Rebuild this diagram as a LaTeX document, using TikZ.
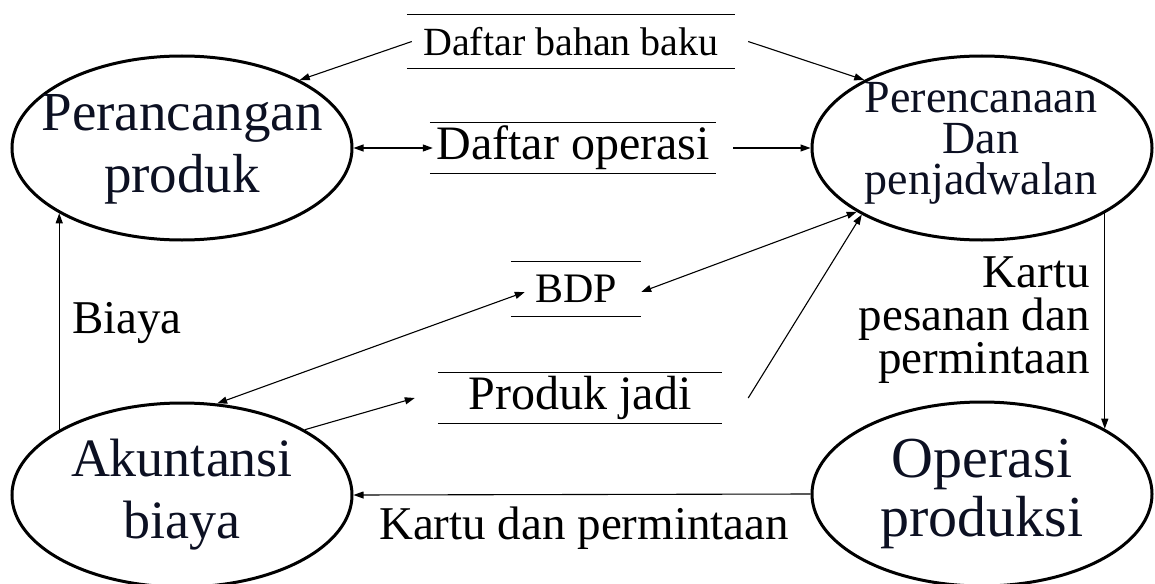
\documentclass[tikz,border=0pt]{standalone}
\usepackage{fontspec}
\setmainfont{Liberation Serif}
\usetikzlibrary{arrows.meta,shapes.geometric}
\definecolor{inknavy}{RGB}{12,16,34}
\begin{document}
\begin{tikzpicture}[x=1pt,y=-1pt,
  proc/.style={ellipse,draw,line width=3pt,minimum width=340pt,minimum height=184pt,inner sep=0pt},
  proctext/.style={inner sep=0pt,align=center,text=inknavy},
  flow/.style={line width=1.1pt,-{Triangle[length=10pt,width=7pt]}},
  both/.style={line width=1.1pt,{Triangle[length=10pt,width=7pt]}-{Triangle[length=10pt,width=7pt]}},
  rule/.style={line width=1.3pt},
  store/.style={inner sep=0pt,
    append after command={(\tikzlastnode.north west) edge[rule] (\tikzlastnode.north east)
                          (\tikzlastnode.south west) edge[rule] (\tikzlastnode.south east)}},
  lbl/.style={inner sep=0pt}]
\useasboundingbox (0,0) rectangle (1155,583);

% processes
\node[proc] (pp) at (182,148) {};
\node[proc] (pe) at (982,148) {};
\node[proc] (ak) at (182,495) {};
\node[proc] (op) at (982,494) {};
\node[proctext,font=\fontsize{55}{62}\selectfont] (pp-t) at (182,149) {Perancangan\\produk};
\node[proctext,font=\fontsize{46}{41}\selectfont] (pe-t) at (981,143) {Perencanaan\\Dan\\penjadwalan};
\node[proctext,font=\fontsize{54}{62}\selectfont] (ak-t) at (182,495) {Akuntansi\\biaya};
\node[proctext,font=\fontsize{58}{59}\selectfont] (op-t) at (982,494) {Operasi\\produksi};

% data stores
\node[store,minimum width=328pt,minimum height=53pt,font=\fontsize{40}{40}\selectfont] (dbb) at (571,41.5) {Daftar bahan baku};
\node[store,minimum width=286pt,minimum height=50pt,font=\fontsize{48}{48}\selectfont] (dop) at (573,148) {Daftar operasi};
\node[store,minimum width=130pt,minimum height=54pt,font=\fontsize{42}{42}\selectfont] (bdp) at (576,289) {BDP};
\node[store,minimum width=284pt,minimum height=50pt,font=\fontsize{48}{48}\selectfont] (pj) at (580,398) {Produk jadi};

% flows
\draw[flow] ([xshift=5pt]dbb.west) -- (pp.30);
\draw[flow] ([xshift=13pt]dbb.east) -- (pe.150);
\draw[both] (pp.east) -- ([xshift=3pt]dop.west);
\draw[flow] ([xshift=17pt]dop.east) -- (pe.west);
\draw[both] (ak.69) -- ([xshift=14pt,yshift=-3pt]bdp.west);
\draw[both] (pe.207) -- ([yshift=-3pt]bdp.east);
\draw[flow] (ak.28) -- ([xshift=-23pt]pj.west);
\draw[flow] ([xshift=26pt]pj.east) -- (pe.209);
\draw[flow] (pe.-28) -- (op.28);
\draw[flow] (op.west) -- (ak.east);
\draw[flow] (ak.152) -- (pp.208);

% flow labels
\node[lbl,anchor=east,align=right,font=\fontsize{47}{43}\selectfont] (kpp) at (1090,320) {Kartu\\pesanan dan\\permintaan};
\node[lbl,font=\fontsize{47}{47}\selectfont] (kdp) at (584,528) {Kartu dan permintaan};
\node[lbl,anchor=base west,font=\fontsize{47}{47}\selectfont] (biaya) at (72,333) {Biaya};
\end{tikzpicture}
\end{document}
